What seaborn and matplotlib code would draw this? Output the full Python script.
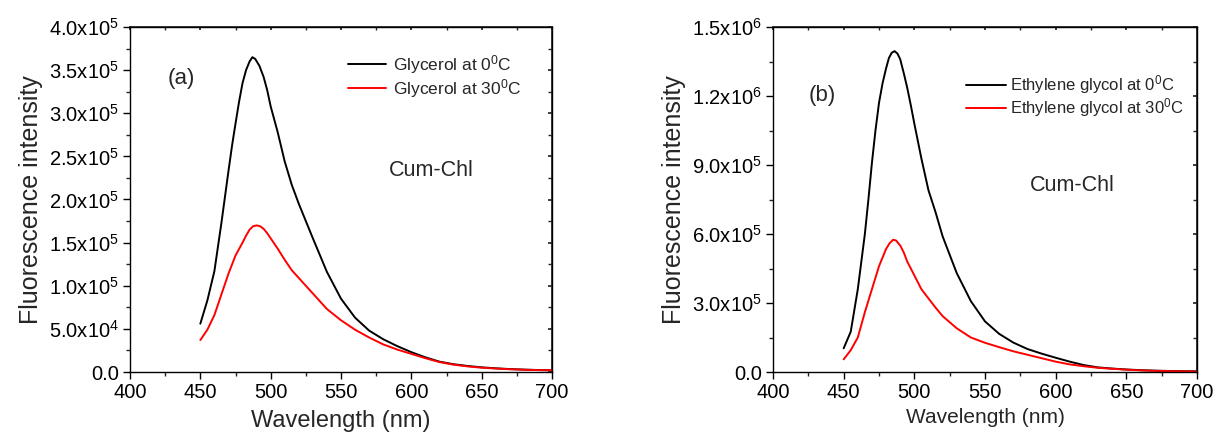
import numpy as np
import pandas as pd
import matplotlib
matplotlib.use("Agg")
import matplotlib.pyplot as plt
import seaborn as sns
from matplotlib.ticker import MultipleLocator, FuncFormatter

# ---------------- data ----------------
wl_a = [450, 455, 460, 465, 470, 472.5, 475, 477.5, 480, 482.5, 485, 487, 489, 492, 495, 497.5,
        500, 505, 510, 515, 520, 530, 540, 550, 560, 570, 580, 590, 600, 610, 620, 630, 640,
        650, 660, 670, 680, 690, 700]
glycerol_0 = [5.6e4, 8.3e4, 1.17e5, 1.73e5, 2.33e5, 2.62e5, 2.88e5, 3.13e5, 3.35e5, 3.50e5,
              3.60e5, 3.65e5, 3.63e5, 3.55e5, 3.42e5, 3.27e5, 3.08e5, 2.78e5, 2.44e5, 2.17e5,
              1.95e5, 1.55e5, 1.16e5, 8.5e4, 6.3e4, 4.8e4, 3.8e4, 3.0e4, 2.3e4, 1.7e4, 1.2e4,
              9.0e3, 7.0e3, 5.4e3, 4.3e3, 3.4e3, 2.8e3, 2.3e3, 2.0e3]
wl_a30 = [450, 455, 460, 465, 470, 475, 480, 482.5, 485, 487.5, 490, 492.5, 495, 497.5, 500,
          505, 510, 515, 520, 530, 540, 550, 560, 570, 580, 590, 600, 610, 620, 630, 640, 650,
          660, 670, 680, 690, 700]
glycerol_30 = [3.7e4, 4.9e4, 6.6e4, 9.0e4, 1.14e5, 1.35e5, 1.50e5, 1.58e5, 1.65e5, 1.69e5,
               1.70e5, 1.69e5, 1.66e5, 1.61e5, 1.55e5, 1.43e5, 1.30e5, 1.18e5, 1.09e5, 9.1e4,
               7.3e4, 6.0e4, 4.9e4, 4.0e4, 3.2e4, 2.6e4, 2.1e4, 1.6e4, 1.15e4, 8.5e3, 6.5e3,
               5.0e3, 4.0e3, 3.2e3, 2.6e3, 2.2e3, 2.0e3]

wl_b = [450, 455, 460, 462.5, 465, 467.5, 470, 472.5, 475, 477.5, 480, 482, 484, 486, 488, 490,
        492.5, 495, 497.5, 500, 505, 510, 515, 520, 530, 540, 550, 560, 570, 580, 590, 600,
        610, 620, 630, 640, 650, 660, 670, 680, 690, 700]
eg_0 = [1.03e5, 1.75e5, 3.6e5, 4.8e5, 6.0e5, 7.5e5, 9.1e5, 1.05e6, 1.17e6, 1.255e6, 1.32e6,
        1.365e6, 1.388e6, 1.395e6, 1.385e6, 1.36e6, 1.30e6, 1.235e6, 1.16e6, 1.08e6, 9.28e5,
        7.9e5, 6.95e5, 5.9e5, 4.3e5, 3.08e5, 2.2e5, 1.66e5, 1.28e5, 1.0e5, 8.0e4, 6.2e4,
        4.5e4, 3.0e4, 2.0e4, 1.5e4, 1.1e4, 8.0e3, 6.0e3, 4.5e3, 3.5e3, 3.0e3]
wl_b30 = [450, 455, 460, 465, 470, 475, 480, 482.5, 485, 487, 490, 492.5, 495, 500, 505, 510,
          515, 520, 530, 540, 550, 560, 570, 580, 590, 600, 610, 620, 630, 640, 650, 660, 670,
          680, 690, 700]
eg_30 = [5.5e4, 9.5e4, 1.5e5, 2.6e5, 3.6e5, 4.6e5, 5.35e5, 5.6e5, 5.75e5, 5.72e5, 5.5e5,
         5.2e5, 4.8e5, 4.2e5, 3.6e5, 3.2e5, 2.8e5, 2.43e5, 1.9e5, 1.5e5, 1.27e5, 1.08e5,
         9.0e4, 7.5e4, 6.0e4, 4.5e4, 3.3e4, 2.5e4, 1.8e4, 1.4e4, 1.0e4, 7.0e3, 5.0e3, 4.0e3,
         3.0e3, 2.0e3]

labels_a = ["Glycerol at 0$^0$C", "Glycerol at 30$^0$C"]
labels_b = ["Ethylene glycol at 0$^0$C", "Ethylene glycol at 30$^0$C"]
colors = ["black", "red"]

# ---------------- style ----------------
sns.set_theme(style="ticks")
plt.rcParams["font.family"] = ["Liberation Sans", "DejaVu Sans"]
plt.rcParams["mathtext.fontset"] = "custom"
plt.rcParams["mathtext.rm"] = "Liberation Sans"
plt.rcParams["mathtext.it"] = "Liberation Sans:italic"
plt.rcParams["mathtext.bf"] = "Liberation Sans:bold"


def sci_fmt(v, pos):
    if v == 0:
        return "0.0"
    e = int(np.floor(np.log10(abs(v)) + 1e-9))
    m = v / 10 ** e
    return f"{m:.1f}x10$^{{{e}}}$"


fig = plt.figure(figsize=(12.16, 4.43), dpi=100)
axA = fig.add_axes([130 / 1216, 71 / 443, 422 / 1216, 345 / 443])
axB = fig.add_axes([773 / 1216, 71 / 443, 424 / 1216, 345 / 443])


def draw(ax, wls, series, labels, ymax, ymaj, ymin):
    for wl, ys, lab, c in zip(wls, series, labels, colors):
        df = pd.DataFrame({"wl": wl, "I": ys})
        sns.lineplot(data=df, x="wl", y="I", ax=ax, color=c, linewidth=1.4, label=lab)
    ax.set_xlim(400, 700)
    ax.set_ylim(0, ymax)
    ax.xaxis.set_major_locator(MultipleLocator(50))
    ax.xaxis.set_minor_locator(MultipleLocator(25))
    ax.yaxis.set_major_locator(MultipleLocator(ymaj))
    ax.yaxis.set_minor_locator(MultipleLocator(ymin))
    ax.yaxis.set_major_formatter(FuncFormatter(sci_fmt))
    ax.tick_params(axis="both", which="major", direction="out", length=5, width=1,
                   labelsize=14.5, colors="black", pad=3)
    ax.tick_params(axis="both", which="minor", direction="out", length=3, width=1)
    for s in ax.spines.values():
        s.set_linewidth(1.0)
        s.set_color("black")
    # mirrored inward ticks on top/right
    top = ax.secondary_xaxis("top")
    top.xaxis.set_major_locator(MultipleLocator(50))
    top.xaxis.set_minor_locator(MultipleLocator(25))
    top.tick_params(which="both", direction="in", length=2, labeltop=False)
    right = ax.secondary_yaxis("right")
    right.yaxis.set_major_locator(MultipleLocator(ymaj))
    right.yaxis.set_minor_locator(MultipleLocator(ymin))
    right.tick_params(which="both", direction="in", length=3, labelright=False)
    ax.set_ylabel("Fluorescence intensity", fontsize=18, labelpad=4)


draw(axA, [wl_a, wl_a30], [glycerol_0, glycerol_30], labels_a, 4.0e5, 0.5e5, 0.25e5)
draw(axB, [wl_b, wl_b30], [eg_0, eg_30], labels_b, 1.5e6, 3.0e5, 1.5e5)

axA.set_xlabel("Wavelength (nm)", fontsize=17, labelpad=6)
axB.set_xlabel("Wavelength (nm)", fontsize=15, labelpad=4)

axA.legend(loc="upper left", bbox_to_anchor=(0.50, 0.945), frameon=False, fontsize=12.5,
           handlelength=2.2, handletextpad=0.4, labelspacing=0.08, borderaxespad=0)
axB.legend(loc="upper left", bbox_to_anchor=(0.44, 0.885), frameon=False, fontsize=12,
           handlelength=2.4, handletextpad=0.25, labelspacing=0.0, borderaxespad=0)

axA.text(427, 3.40e5, "(a)", fontsize=16, va="center", ha="left")
axA.text(584, 2.34e5, "Cum-Chl", fontsize=15.5, va="center", ha="left")
axB.text(425, 1.20e6, "(b)", fontsize=16, va="center", ha="left")
axB.text(582, 8.13e5, "Cum-Chl", fontsize=15.5, va="center", ha="left")

fig.savefig("out.png", dpi=100)
